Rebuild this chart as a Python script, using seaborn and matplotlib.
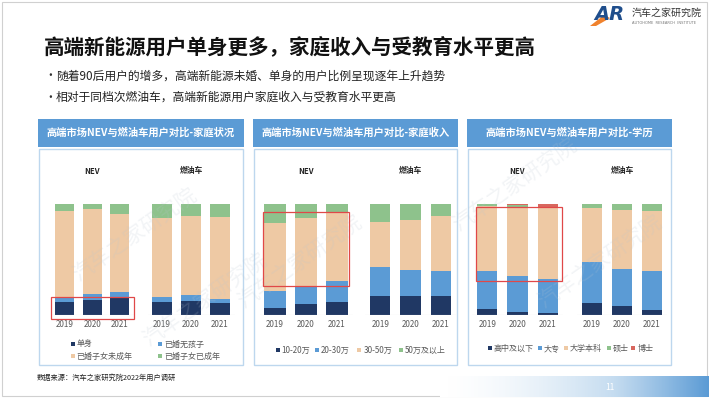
import numpy as np
import seaborn as sns
import matplotlib.pyplot as plt
from matplotlib.patches import Rectangle, Polygon

plt.rcParams['font.family'] = ['Noto Sans CJK SC', 'DejaVu Sans']

# ---- data (percent shares, bottom -> top) ----
years = ['2019', '2020', '2021']

fam_labels = ['单身', '已婚无孩子', '已婚子女未成年', '已婚子女已成年']
fam_nev = [[11.1, 4.5, 77.7, 6.7], [13.3, 5.7, 76.5, 4.5], [16.0, 4.2, 70.8, 9.0]]
fam_ice = [[11.1, 4.8, 71.4, 12.7], [12.3, 5.4, 71.8, 10.5], [10.2, 4.2, 74.2, 11.4]]

inc_labels = ['10-20万', '20-30万', '30-50万', '50万及以上']
inc_nev = [[5.8, 15.5, 61.1, 17.6], [9.4, 15.5, 62.3, 12.8], [10.9, 19.5, 61.1, 8.5]]
inc_ice = [[17.0, 25.6, 41.0, 16.4], [16.7, 23.4, 45.3, 14.6], [16.4, 23.1, 49.6, 10.9]]

edu_labels = ['高中及以下', '大专', '大学本科', '硕士', '博士']
edu_nev = [[5.2, 34.0, 58.7, 1.8, 0.3], [2.1, 32.8, 61.4, 3.0, 0.7], [1.8, 30.7, 63.8, 0.7, 3.0]]
edu_ice = [[10.3, 37.4, 48.6, 3.6, 0.1], [7.6, 33.4, 53.2, 5.8, 0.0], [4.0, 35.3, 54.3, 6.4, 0.0]]

group_labels = ['NEV', '燃油车']
panel_titles = ['高端市场NEV与燃油车用户对比-家庭状况',
                '高端市场NEV与燃油车用户对比-家庭收入',
                '高端市场NEV与燃油车用户对比-学历']

NAVY = '#203864'
LBLUE = '#5B9BD5'
BEIGE = '#EEC9A4'
GREEN = '#8EC28C'
RED = '#D8675E'
colors4 = [NAVY, LBLUE, BEIGE, GREEN]
colors5 = [NAVY, LBLUE, BEIGE, GREEN, RED]

W, H = 710, 399
fig = plt.figure(figsize=(W / 100, H / 100), dpi=100)
fig.patch.set_facecolor('white')


def fx(x):
    return x / W


def fy(y):
    return 1 - y / H


def frect(x0, y0, x1, y1, **kw):
    r = Rectangle((fx(x0), fy(y1)), (x1 - x0) / W, (y1 - y0) / H,
                  transform=fig.transFigure, **kw)
    fig.add_artist(r)
    return r


# slide border
frect(2, 2, 707, 396, facecolor='white', edgecolor='#D0D0D0', lw=0.8, zorder=-10)

# bottom gradient strip
grad_ax = fig.add_axes([fx(440), fy(397), (708 - 440) / W, 21 / H], zorder=-5)
grad = np.linspace(0, 1, 256)[None, :] ** 1.6
cmap = sns.blend_palette(['#FFFFFF', '#C5DCF0', LBLUE], as_cmap=True)
grad_ax.imshow(grad, aspect='auto', cmap=cmap, extent=[0, 1, 0, 1])
grad_ax.axis('off')
fig.text(fx(610), fy(387), '11', color='white', fontsize=6, ha='center', va='center')

# logo
fig.add_artist(Polygon([[fx(590), fy(26)], [fx(604), fy(15)], [fx(610), fy(18)], [fx(596), fy(26)]],
                       closed=True, transform=fig.transFigure, facecolor='#F0822D', edgecolor='none'))
fig.text(fx(609), fy(15), 'AR', fontsize=14, fontweight='bold', color='#1F4E8C',
         ha='center', va='center', family='DejaVu Sans', style='italic')
fig.text(fx(632), fy(13), '汽车之家研究院', fontsize=7.2, color='#333333', va='center')
fig.text(fx(632), fy(23), 'AUTOHOME  RESEARCH  INSTITUTE', fontsize=2.6, color='#777777',
         va='center', family='DejaVu Sans')

# title and bullets
fig.text(fx(44), fy(47), '高端新能源用户单身更多，家庭收入与受教育水平更高',
         fontsize=14.8, fontweight='bold', color='#111111', va='center')
fig.text(fx(44), fy(76), '•', fontsize=8.5, color='#333333', va='center')
fig.text(fx(56), fy(76), '随着90后用户的增多，高端新能源未婚、单身的用户比例呈现逐年上升趋势',
         fontsize=8.5, color='#222222', va='center')
fig.text(fx(44), fy(97), '•', fontsize=8.5, color='#333333', va='center')
fig.text(fx(56), fy(97), '相对于同档次燃油车，高端新能源用户家庭收入与受教育水平更高',
         fontsize=8.5, color='#222222', va='center')

fig.text(fx(37), fy(378), '数据来源：汽车之家研究院2022年用户调研', fontsize=5.2,
         color='#222222', va='center')

# panels
panel_x = [(38, 244), (253, 458), (467, 672)]
for (x0, x1), title in zip(panel_x, panel_titles):
    frect(x0, 119, x1, 147, facecolor=LBLUE, edgecolor='none', zorder=-2)
    frect(x0 + 1, 149, x1 - 1, 365, facecolor='white', edgecolor='#BDD7EE', lw=1, zorder=-2)
    fig.text(fx((x0 + x1) / 2), fy(133), title, color='white', fontsize=7.4,
             fontweight='bold', ha='center', va='center')


def stacked(x0, x1, rows, colors, group):
    ax = fig.add_axes([fx(x0), fy(314.5), (x1 - x0) / W, (314.5 - 204) / H])
    arr = np.array(rows, float)
    arr = arr / arr.sum(axis=1, keepdims=True) * 100
    cum = arr.cumsum(axis=1)
    for k in range(arr.shape[1] - 1, -1, -1):
        sns.barplot(x=years, y=cum[:, k], color=colors[k], width=0.68,
                    saturation=1, linewidth=0, ax=ax)
    ax.set_xlim(-0.5, 2.5)
    ax.set_ylim(0, 100)
    ax.set_yticks([])
    ax.set_ylabel('')
    ax.set_facecolor('none')
    for s in ax.spines.values():
        s.set_visible(False)
    ax.axhline(0, color='#D9D9D9', lw=0.8)
    ax.tick_params(axis='x', length=0, labelsize=5.8, colors='#595959', pad=4)
    ax.text(0.5, (314.5 - 171) / (314.5 - 204), group, transform=ax.transAxes,
            ha='center', va='center', fontsize=5.6, fontweight='bold', color='#222222')
    return ax


stacked(51, 133.5, fam_nev, colors4, group_labels[0])
stacked(147.5, 234.5, fam_ice, colors4, group_labels[1])
stacked(259.5, 352.5, inc_nev, colors4, group_labels[0])
stacked(365, 456, inc_ice, colors4, group_labels[1])
stacked(472, 563, edu_nev, colors5, group_labels[0])
stacked(577, 667, edu_ice, colors5, group_labels[1])


def legend_item(x, y, color, label):
    frect(x - 2, y - 2, x + 2, y + 2, facecolor=color, edgecolor='none', zorder=3)
    fig.text(fx(x + 4), fy(y), label, fontsize=5.8, color='#595959', va='center')


legend_item(72.7, 344, colors4[0], fam_labels[0])
legend_item(160, 344, colors4[1], fam_labels[1])
legend_item(72.7, 356, colors4[2], fam_labels[2])
legend_item(160, 356, colors4[3], fam_labels[3])

for x, c, lab in zip([277.7, 316.7, 359.3, 400.7], colors4, inc_labels):
    legend_item(x, 350, c, lab)

for x, c, lab in zip([490, 540, 566, 609, 633.3], colors5, edu_labels):
    legend_item(x, 348.3, c, lab)

# faint watermarks
for (wx, wy) in [(135, 235), (300, 262), (515, 185), (600, 262), (205, 300)]:
    fig.text(fx(wx), fy(wy), '汽车之家研究院', fontsize=15, color='#B8C4D0', alpha=0.18,
             rotation=35, ha='center', va='center', zorder=8)

# highlight boxes
for (x0, y0, x1, y1) in [(50.7, 296.7, 134.3, 319.3), (263.3, 211.7, 349.3, 285.7),
                         (476, 206.7, 562, 280.7)]:
    frect(x0, y0, x1, y1, facecolor='none', edgecolor='#E04848', lw=0.9, zorder=10)

fig.savefig('out.png', dpi=100)
